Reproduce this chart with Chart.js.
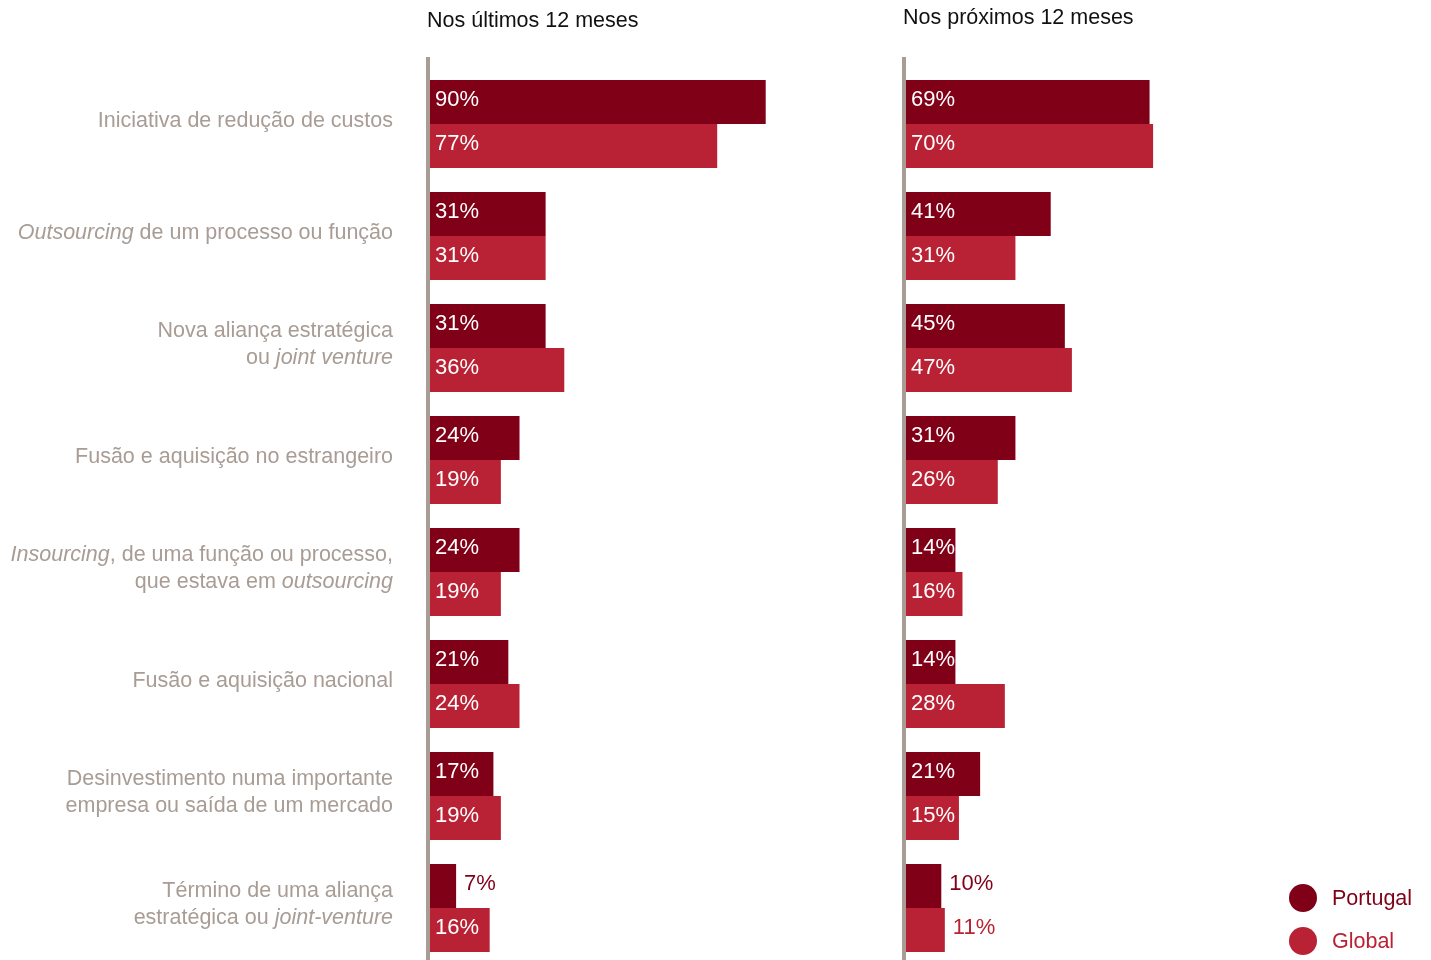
<!DOCTYPE html>
<html>
<head>
<meta charset="utf-8">
<script src="https://cdn.jsdelivr.net/npm/chart.js@4/dist/chart.umd.min.js"></script>
<style>
  html, body { margin: 0; padding: 0; background: #fff; overflow: hidden; }
  #wrap { position: relative; width: 1431px; height: 960px; overflow: hidden; }
  canvas { position: absolute; top: 0; }
  .title { position: absolute; font: 21.5px "Liberation Sans", Arial, sans-serif; color: #111; white-space: nowrap; }
  .legend { position: absolute; left: 1289px; font: 21.5px "Liberation Sans", Arial, sans-serif; }
  .legend div { position: relative; height: 43px; line-height: 28px; padding-left: 43px; }
  .legend span { position: absolute; left: 0; top: 0; width: 28px; height: 28px; border-radius: 50%; }
</style>
</head>
<body>
<div id="wrap">
  <canvas id="past" width="880" height="976" style="left:0"></canvas>
  <canvas id="next" width="551" height="976" style="left:880px"></canvas>
  <div class="title" style="left:427px; top:8px">Nos últimos 12 meses</div>
  <div class="title" style="left:903px; top:5px">Nos próximos 12 meses</div>
  <div class="legend" style="top:884px">
    <div style="color:#800018"><span style="background:#800018"></span>Portugal</div>
    <div style="color:#b92234"><span style="background:#b92234"></span>Global</div>
  </div>
</div>
<script>
// Category labels, *text* = italic
const categories = [
  ['Iniciativa de redução de custos'],
  ['*Outsourcing* de um processo ou função'],
  ['Nova aliança estratégica', 'ou *joint venture*'],
  ['Fusão e aquisição no estrangeiro'],
  ['*Insourcing*, de uma função ou processo,', 'que estava em *outsourcing*'],
  ['Fusão e aquisição nacional'],
  ['Desinvestimento numa importante', 'empresa ou saída de um mercado'],
  ['Término de uma aliança', 'estratégica ou *joint-venture*']
]

const seriesNames = ['Portugal', 'Global']

// Nos últimos 12 meses
const pastPortugal = [90, 31, 31, 24, 24, 21, 17, 7]
const pastGlobal = [77, 31, 36, 19, 19, 24, 19, 16]

// Nos próximos 12 meses
const nextPortugal = [69, 41, 45, 31, 14, 14, 21, 10]
const nextGlobal = [70, 31, 47, 26, 16, 28, 15, 11]

const DARK = '#800018'
const RED = '#b92234'
const GREY = '#a89c94'
const FONT = '"Liberation Sans", Arial, sans-serif'

// grey axis line left of the bars
const axisLine = {
  id: 'axisLine',
  beforeDatasetsDraw(chart) {
    const { ctx, chartArea } = chart
    ctx.save()
    ctx.fillStyle = GREY
    ctx.fillRect(chartArea.left - 4, 57, 4, chart.height - 57)
    ctx.restore()
  }
}

// value labels inside the bars (outside when bar is too short)
const valueLabels = {
  id: 'valueLabels',
  afterDatasetsDraw(chart) {
    const { ctx } = chart
    ctx.save()
    ctx.font = '22px ' + FONT
    ctx.textBaseline = 'middle'
    ctx.textAlign = 'left'
    chart.data.datasets.forEach((ds, di) => {
      chart.getDatasetMeta(di).data.forEach((bar, i) => {
        const v = ds.data[i]
        if (v < 12) {
          ctx.fillStyle = ds.backgroundColor
          ctx.fillText(v + '%', bar.x + 8, bar.y - 2)
        } else {
          ctx.fillStyle = '#fff'
          ctx.fillText(v + '%', bar.base + 5, bar.y - 2)
        }
      })
    })
    ctx.restore()
  }
}

// category labels with italic parts, right aligned
const categoryLabels = {
  id: 'categoryLabels',
  afterDraw(chart) {
    const { ctx } = chart
    const yScale = chart.scales.y
    const right = 393
    const lineH = 27
    ctx.save()
    ctx.fillStyle = GREY
    ctx.textBaseline = 'middle'
    ctx.textAlign = 'left'
    categories.forEach((lines, i) => {
      const cy = yScale.getPixelForValue(i) - 3
      lines.forEach((line, li) => {
        const y = cy + (li - (lines.length - 1) / 2) * lineH
        const parts = line.split('*').map((t, k) => ({ t, italic: k % 2 === 1 }))
        let w = 0
        parts.forEach((p) => {
          ctx.font = (p.italic ? 'italic ' : '') + '21.5px ' + FONT
          p.w = ctx.measureText(p.t).width
          w += p.w
        })
        let x = right - w
        parts.forEach((p) => {
          ctx.font = (p.italic ? 'italic ' : '') + '21.5px ' + FONT
          ctx.fillText(p.t, x, y)
          x += p.w
        })
      })
    })
    ctx.restore()
  }
}

function makeChart(id, portugal, global, padding, extraPlugins) {
  return new Chart(document.getElementById(id), {
    type: 'bar',
    data: {
      labels: categories.map((c) => c.join(' ').replace(/\*/g, '')),
      datasets: [
        { label: seriesNames[0], data: portugal, backgroundColor: DARK },
        { label: seriesNames[1], data: global, backgroundColor: RED }
      ]
    },
    options: {
      indexAxis: 'y',
      responsive: false,
      animation: false,
      layout: { padding },
      datasets: {
        bar: { barPercentage: 1, categoryPercentage: 88 / 112, borderWidth: 0 }
      },
      scales: {
        x: { display: false, min: 0, max: 100 },
        y: { display: false }
      },
      plugins: {
        legend: { display: false },
        tooltip: { enabled: false }
      }
    },
    plugins: [axisLine, valueLabels, ...extraPlugins]
  })
}

makeChart('past', pastPortugal, pastGlobal, { left: 430, right: 77, top: 68, bottom: 12 }, [categoryLabels])
makeChart('next', nextPortugal, nextGlobal, { left: 26, right: 172, top: 68, bottom: 12 }, [])
</script>
</body>
</html>
